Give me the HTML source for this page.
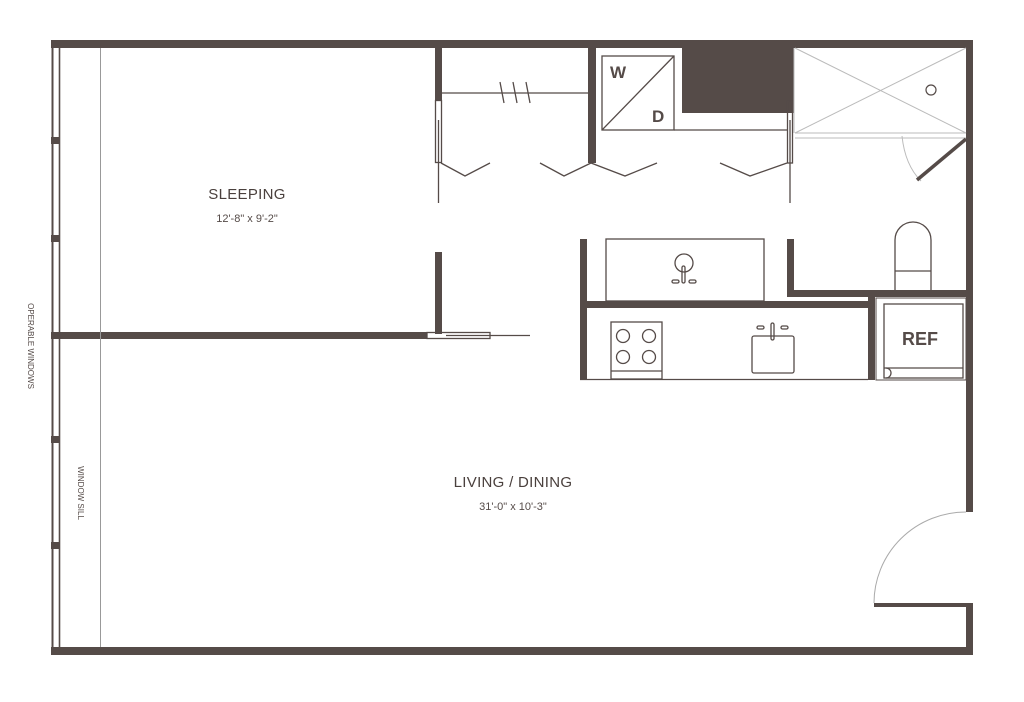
<!DOCTYPE html>
<html><head><meta charset="utf-8"><style>
html,body{margin:0;padding:0;background:#fff;}
svg{display:block;}
text{font-family:"Liberation Sans",sans-serif;fill:#554b48;}
</style></head><body>
<svg width="1024" height="702" viewBox="0 0 1024 702" xmlns="http://www.w3.org/2000/svg">
<g fill="#554b48">
<rect x="51" y="40" width="922" height="8"/>
<rect x="51" y="647" width="922" height="8"/>
<rect x="966" y="40" width="7" height="472"/>
<rect x="966" y="603" width="7" height="52"/>
<rect x="874" y="603" width="99" height="4"/>
<rect x="51" y="137" width="8" height="7"/>
<rect x="51" y="235" width="8" height="7"/>
<rect x="51" y="436" width="8" height="7"/>
<rect x="51" y="542" width="8" height="7"/>
<rect x="51" y="332" width="376" height="7"/>
<rect x="435" y="252" width="7" height="82"/>
<rect x="435" y="48" width="7" height="52"/>
<rect x="588" y="48" width="8" height="115"/>
<rect x="682" y="48" width="112" height="65"/>
<rect x="580" y="239" width="7" height="140"/>
<rect x="580" y="301" width="295" height="7"/>
<rect x="787" y="239" width="7" height="58"/>
<rect x="787" y="290" width="186" height="7"/>
<rect x="868" y="297" width="7" height="83"/>
</g>
<g fill="none" stroke="#554b48" stroke-width="1.3">
<line x1="52.5" y1="48" x2="52.5" y2="647" stroke-width="2"/>
<line x1="59.5" y1="48" x2="59.5" y2="647" stroke-width="1.6"/>
<line x1="100.5" y1="48" x2="100.5" y2="647" stroke="#999" stroke-width="1"/>
<rect x="427" y="332.5" width="63" height="6"/>
<line x1="446" y1="335.5" x2="530" y2="335.5"/>
<line x1="442" y1="93" x2="588" y2="93"/>
<line x1="500" y1="82" x2="504" y2="103"/>
<line x1="513" y1="82" x2="517" y2="103"/>
<line x1="526" y1="82" x2="530" y2="103"/>
<rect x="435.5" y="100.5" width="6" height="62"/>
<line x1="438.5" y1="120" x2="438.5" y2="203"/>
<polyline points="441,163 465,176 490,163"/>
<polyline points="540,163 564,176 591,163 625,176 657,163"/>
<polyline points="720,163 750,176 787,163"/>
<rect x="787.5" y="101" width="5" height="62"/>
<line x1="790" y1="120" x2="790" y2="203"/>
<rect x="602" y="56" width="72" height="74"/>
<line x1="602" y1="130" x2="674" y2="56"/>
<line x1="674" y1="130" x2="787" y2="130"/>
<g stroke="#bbb" stroke-width="1">
<line x1="795" y1="48" x2="966" y2="133"/>
<line x1="795" y1="133" x2="966" y2="48"/>
<line x1="795" y1="133" x2="966" y2="133"/>
<line x1="795" y1="138" x2="966" y2="138"/>
<line x1="794" y1="48" x2="794" y2="133"/>
<path d="M902,136 Q905,165 921,181"/>
</g>
<circle cx="931" cy="90" r="5" stroke-width="1.2"/>
<line x1="966" y1="139" x2="917" y2="180" stroke-width="3.5"/>
<rect x="606" y="239" width="158" height="62"/>
<circle cx="684" cy="263" r="9"/>
<rect x="682" y="266" width="3" height="17" rx="1.5"/>
<rect x="672" y="280" width="7" height="3" rx="1.5"/>
<rect x="689" y="280" width="7" height="3" rx="1.5"/>
<path d="M895,290 V240 A18,18 0 0 1 931,240 V290"/>
<line x1="895" y1="271" x2="931" y2="271"/>
<line x1="580" y1="379.5" x2="868" y2="379.5"/>
<rect x="611" y="322" width="51" height="57"/>
<line x1="611" y1="371" x2="662" y2="371"/>
<circle cx="623" cy="336" r="6.5"/>
<circle cx="649" cy="336" r="6.5"/>
<circle cx="623" cy="357" r="6.5"/>
<circle cx="649" cy="357" r="6.5"/>
<rect x="752" y="336" width="42" height="37" rx="2"/>
<rect x="771" y="323" width="3" height="17" rx="1.5"/>
<rect x="757" y="326" width="7" height="3" rx="1.5"/>
<rect x="781" y="326" width="7" height="3" rx="1.5"/>
<rect x="876" y="298" width="90" height="82" stroke-width="1"/>
<rect x="884" y="304" width="79" height="74"/>
<line x1="884" y1="368" x2="963" y2="368"/>
<path d="M886,368 A5,5 0 0 1 886,378"/>
<path d="M874,603 A92,91 0 0 1 966,512" stroke="#aaa" stroke-width="1"/>
</g>
<text x="247" y="199" font-size="15" text-anchor="middle" style="letter-spacing:0.3px;fill:#4a403d">SLEEPING</text>
<text x="247" y="222" font-size="11" text-anchor="middle">12'-8" x 9'-2"</text>
<text x="513" y="487" font-size="15" text-anchor="middle" style="letter-spacing:0.3px;fill:#4a403d">LIVING / DINING</text>
<text x="513" y="510" font-size="11" text-anchor="middle">31'-0" x 10'-3"</text>
<text x="610" y="78" font-size="17" font-weight="bold">W</text>
<text x="652" y="122" font-size="17" font-weight="bold">D</text>
<text x="920" y="345" font-size="18" font-weight="bold" text-anchor="middle">REF</text>
<text transform="translate(28,346) rotate(90)" font-size="8" text-anchor="middle">OPERABLE WINDOWS</text>
<text transform="translate(78,493) rotate(90)" font-size="8" text-anchor="middle">WINDOW SILL</text>
</svg>
</body></html>
